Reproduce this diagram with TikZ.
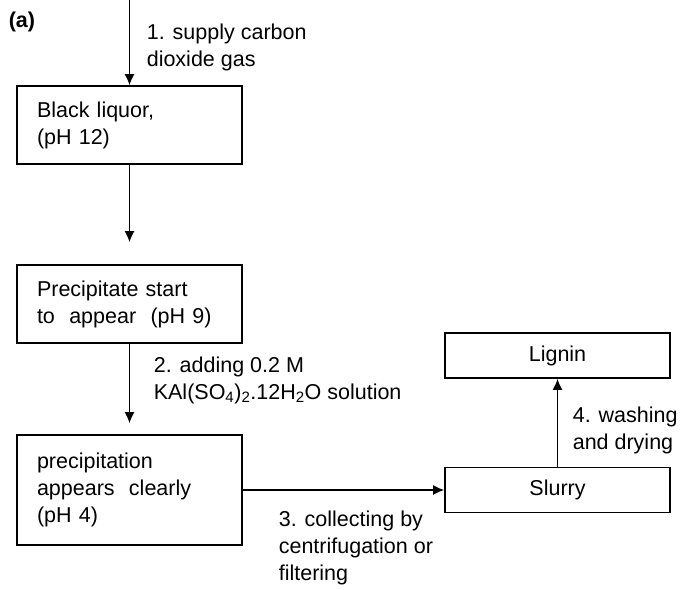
\documentclass[tikz,border=0pt]{standalone}
\usepackage{fontspec}
\setmainfont{Liberation Sans}
\usetikzlibrary{arrows.meta}
\begin{document}
\begin{tikzpicture}[x=1pt, y=-1pt, line width=1.6pt,
        txt/.style={font=\fontsize{21.5}{27}\selectfont},
        box/.style={txt, draw, rectangle, minimum width=225pt, inner xsep=20pt, text width=185pt, align=left},
        cbox/.style={txt, draw, rectangle, minimum width=225pt, minimum height=45pt},
        lbl/.style={txt, anchor=west, inner sep=0pt, align=left},
        arr/.style={-{Latex[length=11pt,width=10pt]}}]
    \useasboundingbox (0,0) rectangle (684,589);
    \node[anchor=west, inner sep=0pt, font=\fontsize{21.5}{27}\selectfont\bfseries] (tag) at (8,22) {(a)};

    % left column
    \node[box, minimum height=78pt] (liquor) at (129.5,125) {Black liquor,\\(pH 12)};
    \node[box, minimum height=78pt] (start) at (129.5,304) {Precipitate start\\to\ \ appear\ \ (pH 9)};
    \node[box, minimum height=110pt] (clearly) at (129.5,490) {precipitation\\appears\ \ clearly\\(pH 4)};
    % right column
    \node[cbox] (slurry) at (557.5,490) {Slurry};
    \node[cbox] (lignin) at (557.5,355.5) {Lignin};

    \coordinate (gas) at (129.5,0);
    \draw[arr] (gas) -- (liquor);
    \draw[arr, shorten >=22pt] (liquor) -- (start);
    \draw[arr, shorten >=11pt] (start) -- (clearly);
    \draw[arr] (clearly) -- (slurry);
    \draw[arr] (slurry) -- (lignin);

    % step labels
    \node[lbl] (step1) at (146,47.5) {1. supply carbon\\dioxide gas};
    \node[lbl] (step2) at (153,380) {2. adding 0.2 M\\KAl(SO\textsubscript{4})\textsubscript{2}.12H\textsubscript{2}O solution};
    \node[lbl] (step3) at (278,548) {3. collecting by\\centrifugation or\\filtering};
    \node[lbl] (step4) at (572,430) {4. washing\\and drying};
\end{tikzpicture}
\end{document}
